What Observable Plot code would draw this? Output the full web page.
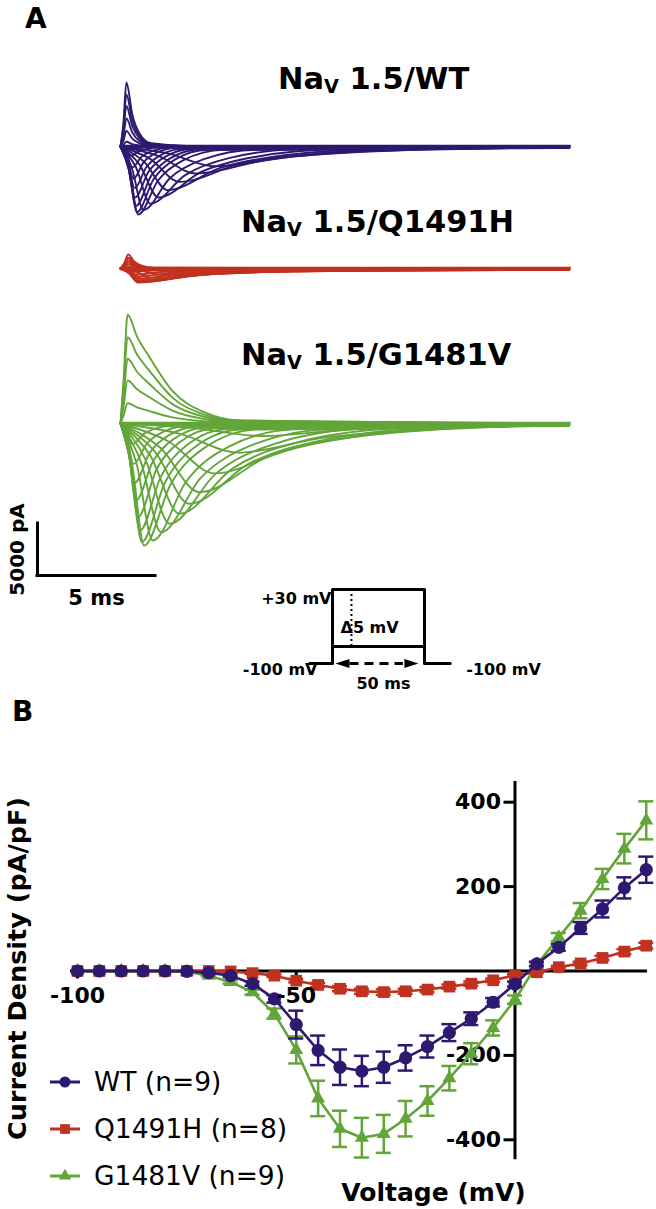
<!DOCTYPE html>
<html><head><meta charset="utf-8">
<script src="https://cdn.jsdelivr.net/npm/d3@7"></script>
<script src="https://cdn.jsdelivr.net/npm/@observablehq/plot@0.6"></script>
<style>
body{margin:0;background:#fff;}
#fig{position:relative;width:656px;height:1209px;overflow:hidden;font-family:"DejaVu Sans",sans-serif;background:#fff;}
.lbl{position:absolute;line-height:1;white-space:nowrap;color:#000;font-family:"DejaVu Sans",sans-serif;}
.sub{font-size:0.63em;position:relative;top:0.22em;}
</style></head><body><div id="fig"></div>
<script>
// ---------------- DATA ----------------
// Panel A: representative current sweeps, key points [time (ms), current (pA)]
const wtSweeps = [
  [[0,0],[0.12,2150],[0.25,6150],[0.5,3075],[0.81,1230],[1.3,310],[3,40],[19,0]],
  [[0,0],[0.12,1750],[0.25,5000],[0.5,2500],[0.81,1000],[1.3,250],[3,30],[19,0]],
  [[0,0],[0.12,1365],[0.25,3900],[0.5,1950],[0.81,780],[1.3,195],[3,25],[19,0]],
  [[0,0],[0.12,945],[0.25,2700],[0.5,1350],[0.81,540],[1.3,135],[3,15],[19,0]],
  [[0,0],[0.12,525],[0.25,1500],[0.5,750],[0.81,300],[1.3,75],[3,10],[19,0]],
  [[0,0],[0.12,160],[0.25,450],[0.5,225],[0.81,90],[1.3,22],[3,0],[19,0]],
  [[0,0],[0.22,-315],[0.45,-900],[0.8,-450],[1.25,-180],[1.95,-45],[19,-20]],
  [[0,0],[0.25,-700],[0.5,-2000],[0.89,-1000],[1.38,-400],[2.15,-100],[19,-40]],
  [[0,0],[0.28,-1085],[0.55,-3100],[0.97,-1550],[1.51,-620],[2.35,-155],[19,-60]],
  [[0,0],[0.3,-1400],[0.6,-4000],[1.09,-2000],[1.72,-800],[2.7,-200],[19,-80]],
  [[0,0],[0.31,-1715],[0.62,-4900],[1.18,-2450],[1.9,-980],[3.02,-245],[19,-100]],
  [[0,0],[0.33,-1995],[0.66,-5700],[1.29,-2850],[2.1,-1140],[3.36,-285],[19,-110]],
  [[0,0],[0.35,-2205],[0.7,-6300],[1.4,-3150],[2.3,-1260],[3.7,-315],[19,-120]],
  [[0,0],[0.38,-2290],[0.75,-6540],[1.59,-3270],[2.67,-1310],[4.35,-327],[19,-130]],
  [[0,0],[0.49,-2135],[0.97,-6100],[2.09,-3050],[3.53,-1220],[5.77,-305],[19,-120]],
  [[0,0],[0.64,-1925],[1.27,-5500],[2.74,-2750],[4.63,-1100],[7.57,-275],[19,-110]],
  [[0,0],[0.8,-1715],[1.6,-4900],[3.42,-2450],[5.76,-980],[9.4,-245],[19,-100]],
  [[0,0],[1.0,-1470],[2.0,-4200],[4.17,-2100],[6.96,-840],[11.3,-210],[19,-90]],
  [[0,0],[1.25,-1190],[2.5,-3400],[5.02,-1700],[8.26,-680],[13.3,-170],[19,-80]],
  [[0,0],[1.6,-910],[3.2,-2600],[6.14,-1300],[9.92,-520],[15.8,-130],[19,-70]],
  [[0,0],[2.0,-665],[4.0,-1900],[7.36,-950],[11.7,-380],[19,-120]]
];
const q1491hSweeps = [
  [[0,0],[0.15,473],[0.33,1350],[0.58,675],[0.9,270],[1.4,68],[19,0]],
  [[0,0],[0.15,360],[0.33,1030],[0.58,515],[0.9,206],[1.4,52],[19,0]],
  [[0,0],[0.15,280],[0.33,800],[0.58,400],[0.9,160],[1.4,40],[19,0]],
  [[0,0],[0.15,203],[0.33,580],[0.58,290],[0.9,116],[1.4,29],[19,0]],
  [[0,0],[0.15,135],[0.33,385],[0.58,193],[0.9,77],[1.4,19],[19,0]],
  [[0,0],[0.15,56],[0.33,160],[0.58,80],[0.9,32],[1.4,8],[19,0]],
  [[0,0],[0.25,-105],[0.5,-300],[1.76,-150],[3.38,-75],[5.9,-45],[19,-30]],
  [[0,0],[0.28,-210],[0.55,-600],[1.95,-300],[3.75,-150],[6.55,-90],[19,-60]],
  [[0,0],[0.3,-285],[0.6,-810],[2.21,-405],[4.28,-203],[7.5,-122],[19,-81]],
  [[0,0],[0.33,-350],[0.65,-1000],[2.47,-500],[4.81,-250],[8.45,-150],[19,-100]],
  [[0,0],[0.35,-417],[0.7,-1190],[2.73,-595],[5.34,-298],[9.4,-179],[19,-119]],
  [[0,0],[0.36,-455],[0.72,-1300],[2.89,-650],[5.68,-325],[10.0,-195],[19,-130]],
  [[0,0],[0.38,-473],[0.75,-1350],[3.06,-675],[6.03,-338],[10.65,-203],[19,-135]],
  [[0,0],[0.43,-455],[0.85,-1300],[3.3,-650],[6.45,-325],[11.35,-195],[19,-130]],
  [[0,0],[0.5,-396],[1.0,-1130],[3.66,-565],[7.08,-283],[12.4,-170],[19,-113]],
  [[0,0],[0.65,-315],[1.3,-900],[4.24,-450],[8.02,-225],[13.9,-135],[19,-90]],
  [[0,0],[0.85,-210],[1.7,-600],[4.92,-300],[9.06,-150],[15.5,-90],[19,-60]],
  [[0,0],[1.1,-105],[2.2,-300],[5.7,-150],[10.2,-75],[17.2,-45],[19,-30]]
];
const g1481vSweeps = [
  [[0,0],[0.13,4180],[0.3,10450],[0.7,8360],[1.23,6375],[2.2,3135],[3.6,1045],[5,315],[19,0]],
  [[0,0],[0.13,3320],[0.3,8300],[0.7,6640],[1.23,5063],[2.2,2490],[3.6,830],[5,250],[19,0]],
  [[0,0],[0.13,2488],[0.3,6220],[0.7,4976],[1.23,3794],[2.2,1866],[3.6,622],[5,187],[19,0]],
  [[0,0],[0.13,1652],[0.3,4130],[0.7,3304],[1.23,2519],[2.2,1239],[3.6,413],[5,124],[19,0]],
  [[0,0],[0.13,780],[0.3,1950],[0.7,1560],[1.23,1190],[2.2,585],[3.6,195],[5,59],[19,0]],
  [[0,0],[0.25,-700],[0.5,-2000],[0.99,-1000],[1.62,-400],[2.6,-100],[19,-50]],
  [[0,0],[0.28,-1365],[0.55,-3900],[1.11,-1950],[1.83,-780],[2.95,-195],[19,-80]],
  [[0,0],[0.3,-1995],[0.6,-5700],[1.23,-2850],[2.04,-1140],[3.3,-285],[19,-110]],
  [[0,0],[0.33,-2590],[0.66,-7400],[1.36,-3700],[2.26,-1480],[3.66,-370],[19,-140]],
  [[0,0],[0.37,-3150],[0.74,-9000],[1.51,-4500],[2.5,-1800],[4.04,-450],[19,-170]],
  [[0,0],[0.41,-3605],[0.82,-10300],[1.7,-5150],[2.82,-2060],[4.57,-515],[19,-190]],
  [[0,0],[0.45,-3990],[0.9,-11400],[1.88,-5700],[3.14,-2280],[5.1,-570],[19,-210]],
  [[0,0],[0.5,-4105],[1.0,-11730],[2.12,-5865],[3.56,-2346],[5.8,-587],[19,-220]],
  [[0,0],[0.69,-3940],[1.37,-11250],[2.77,-5625],[4.57,-2250],[7.37,-563],[19,-210]],
  [[0,0],[0.86,-3660],[1.72,-10450],[3.4,-5225],[5.56,-2090],[8.92,-523],[19,-200]],
  [[0,0],[1.04,-3375],[2.08,-9640],[4.04,-4820],[6.56,-1930],[10.5,-482],[19,-190]],
  [[0,0],[1.25,-3040],[2.5,-8680],[4.74,-4340],[7.62,-1736],[12.1,-434],[19,-180]],
  [[0,0],[1.46,-2700],[2.92,-7720],[5.44,-3860],[8.68,-1544],[13.7,-386],[19,-170]],
  [[0,0],[1.68,-2310],[3.35,-6600],[6.15,-3300],[9.75,-1320],[15.35,-330],[19,-160]],
  [[0,0],[2.0,-1680],[4.0,-4800],[7.15,-2400],[11.2,-960],[17.5,-240],[19,-200]],
  [[0,0],[2.5,-980],[5.0,-2800],[8.5,-1400],[13,-560],[19,-150]],
  [[0,0],[3,-420],[6,-1200],[9.5,-600],[14,-240],[19,-90]]
];
const traceTitles = ["WT", "Q1491H", "G1481V"];
const scaleBarMs = 5, scaleBarPa = 5000;

// Voltage protocol (schematic): time (ms), voltage (mV)
const protocolTime = [-12.5, 0, 0, 50, 50, 64];
const protocolVoltage = [-100, -100, 30, 30, -100, -100];
const protocolLowStep = -70;       // lower edge of the step family
const protocolPulseMs = 50;

// Panel B: current density (pA/pF) vs test voltage (mV)
const voltages = [-100,-95,-90,-85,-80,-75,-70,-65,-60,-55,-50,-45,-40,-35,-30,-25,-20,-15,-10,-5,0,5,10,15,20,25,30];
const wtMean = [0,0,0,0,0,-1,-4,-11,-30,-66,-127,-188,-228,-237,-228,-206,-179,-146,-113,-74,-31,17,56,102,147,197,240];
const wtSem  = [0,0,0,0,0,0,1,3,5,9,33,35,42,36,37,30,26,20,15,10,6,5,8,14,20,25,31];
const qMean  = [0,0,0,0,0,0,0,-1,-5,-11,-23,-33,-42,-48,-50,-48,-44,-37,-30,-22,-10,-3,9,18,31,46,60];
const qSem   = [0,0,0,0,0,0,0,1,2,3,4,5,6,6,7,6,6,5,5,4,3,2,3,4,5,6,7];
const gMean  = [0,0,0,0,0,-2,-11,-26,-50,-101,-187,-302,-374,-395,-386,-350,-308,-254,-196,-135,-68,15,80,143,218,290,357];
const gSem   = [0,0,0,0,0,0,2,4,6,12,32,42,43,47,45,42,35,29,25,18,10,6,10,18,24,35,45];
const seriesNames = ["WT (n=9)", "Q1491H (n=8)", "G1481V (n=9)"];
const xTicks = [-100, -50];
const yTicks = [-400, -200, 200, 400];

// ---------------- STYLE / LAYOUT ----------------
const WT_COLOR = "#2d1a70", Q_COLOR = "#c0311f", G_COLOR = "#62a539";
const FONT = "DejaVu Sans";
const fig = document.getElementById("fig");
function place(node, left, top) {
  node.style.position = "absolute";
  node.style.left = left + "px";
  node.style.top = top + "px";
  fig.appendChild(node);
  return node;
}
function label(html, left, baseline, size, weight = "bold") {
  const d = document.createElement("div");
  d.className = "lbl";
  d.innerHTML = html;
  d.style.fontSize = size + "px";
  d.style.fontWeight = weight;
  return place(d, left, baseline - 0.846 * size);
}

// ---------------- PANEL A ----------------
const MS_PX = 118 / scaleBarMs;   // px per ms
const PA_PX = 52 / scaleBarPa;    // px per pA
const ONSET_X = 120;
function tracePlot(sweeps, color, top, height, baseline, extra = []) {
  const rows = sweeps.flatMap((s, k) => s.map(([t, i]) => ({k, t, i})));
  const b = baseline - top;
  const svg = Plot.plot({
    width: 656, height, margin: 0,
    style: {background: "transparent", overflow: "visible", fontFamily: FONT},
    x: {domain: [-ONSET_X / MS_PX, (656 - ONSET_X) / MS_PX], axis: null},
    y: {domain: [-(height - b) / PA_PX, b / PA_PX], axis: null},
    marks: [
      Plot.ruleY([0], {x1: 0, x2: 19.1, stroke: color, strokeWidth: 3.5}),
      Plot.line(rows, {x: "t", y: "i", z: "k", stroke: color, strokeWidth: 1.9, curve: "monotone-x"}),
      ...extra
    ]
  });
  return place(svg, 0, top);
}

label("A", 25, 29, 28);
tracePlot(wtSweeps, WT_COLOR, 60, 180, 146);
tracePlot(q1491hSweeps, Q_COLOR, 240, 50, 268);
const G_TOP = 290, G_BASE = 423;
const barT = (37 - ONSET_X) / MS_PX, barI = -(575 - G_BASE) / PA_PX;
tracePlot(g1481vSweeps, G_COLOR, G_TOP, 330, G_BASE, [
  Plot.ruleX([0], {x: barT, y1: barI, y2: barI + scaleBarPa, strokeWidth: 3, strokeLinecap: "square"}),
  Plot.ruleY([0], {y: barI, x1: barT, x2: barT + scaleBarMs, strokeWidth: 3, strokeLinecap: "square"}),
  Plot.text([`${scaleBarMs} ms`], {x: barT + scaleBarMs / 2, y: barI, text: d => d, dy: 23, fontSize: 21, fontWeight: "bold"}),
  Plot.text([`${scaleBarPa} pA`], {x: barT, y: barI + scaleBarPa / 2, text: d => d, rotate: -90, dx: -20, fontSize: 20, fontWeight: "bold"})
]);

label(`Na<span class="sub">V</span> 1.5/${traceTitles[0]}`, 278, 90, 30.5);
label(`Na<span class="sub">V</span> 1.5/${traceTitles[1]}`, 241, 233, 30.5);
label(`Na<span class="sub">V</span> 1.5/${traceTitles[2]}`, 241, 366, 30.5);

// Voltage protocol
const protoRows = protocolTime.map((t, j) => ({t, v: protocolVoltage[j]}));
const P_MS_PX = 92 / protocolPulseMs, P_MV_PX = 74 / 130, P_W = 330, P_H = 112;
const arrowRight = {draw(ctx) { ctx.moveTo(7, 0); ctx.lineTo(-7, -4.5); ctx.lineTo(-7, 4.5); ctx.closePath(); }};
const arrowLeft = {draw(ctx) { ctx.moveTo(-7, 0); ctx.lineTo(7, -4.5); ctx.lineTo(7, 4.5); ctx.closePath(); }};
const lblStyle = {fontSize: 16, fontWeight: "bold", text: d => d.s};
const protocol = Plot.plot({
  width: P_W, height: P_H, margin: 0,
  style: {background: "transparent", overflow: "visible", fontFamily: FONT},
  x: {domain: [-102 / P_MS_PX, (P_W - 102) / P_MS_PX], axis: null},
  y: {domain: [-100 - (P_H - 83) / P_MV_PX, 30 + 9 / P_MV_PX], axis: null},
  marks: [
    Plot.line(protoRows, {x: "t", y: "v", strokeWidth: 3}),
    Plot.ruleY([protocolLowStep], {x1: 0, x2: protocolPulseMs, strokeWidth: 3}),
    Plot.ruleX([10.3], {y1: protocolLowStep, y2: 30, strokeWidth: 2, strokeDasharray: "2,3"}),
    Plot.ruleY([-100], {x1: 9.5, x2: 38.5, strokeWidth: 3, strokeDasharray: "9,6"}),
    Plot.dot([{t: 5.4, v: -100}], {x: "t", y: "v", symbol: arrowLeft, fill: "black", stroke: "none"}),
    Plot.dot([{t: 42.9, v: -100}], {x: "t", y: "v", symbol: arrowRight, fill: "black", stroke: "none"}),
    Plot.text([{t: 0, v: 30, s: "+30 mV"}], {x: "t", y: "v", ...lblStyle, textAnchor: "end", dx: -1, dy: 9}),
    Plot.text([{t: 0, v: protocolLowStep, s: "\u03945 mV"}], {x: "t", y: "v", ...lblStyle, textAnchor: "start", dx: 8, dy: -19}),
    Plot.text([{t: 0, v: -100, s: "-100 mV"}], {x: "t", y: "v", ...lblStyle, textAnchor: "end", dx: -15, dy: 6}),
    Plot.text([{t: 64, v: -100, s: "-100 mV"}], {x: "t", y: "v", ...lblStyle, textAnchor: "start", dx: 16, dy: 6}),
    Plot.text([{t: protocolPulseMs / 2, v: -100, s: `${protocolPulseMs} ms`}], {x: "t", y: "v", ...lblStyle, dx: 5, dy: 20})
  ]
});
place(protocol, 230, 580);

// ---------------- PANEL B ----------------
label("B", 12, 722, 28);
const B_TOP = 760, B_H = 449, V_PX = 4.375, D_PX = 0.422, X0 = 514.5, Y0 = 970.5 - B_TOP;
const series = [
  {name: seriesNames[2], mean: gMean, sem: gSem, color: G_COLOR, symbol: "triangle", r: 5.2},
  {name: seriesNames[1], mean: qMean, sem: qSem, color: Q_COLOR, symbol: "square", r: 6.6},
  {name: seriesNames[0], mean: wtMean, sem: wtSem, color: WT_COLOR, symbol: "circle", r: 6.6}
];
const seriesMarks = series.flatMap(s => {
  const rows = voltages.map((v, j) => ({v, m: s.mean[j], e: s.sem[j]}));
  const err = rows.filter(d => d.e > 0);
  return [
    Plot.line(rows, {x: "v", y: "m", stroke: s.color, strokeWidth: 2.6}),
    Plot.ruleX(err, {x: "v", y1: d => d.m - d.e, y2: d => d.m + d.e, stroke: s.color, strokeWidth: 2.5}),
    Plot.ruleY(err, {y: d => d.m + d.e, x1: "v", x2: "v", insetLeft: -7.5, insetRight: -7.5, stroke: s.color, strokeWidth: 2.5}),
    Plot.ruleY(err, {y: d => d.m - d.e, x1: "v", x2: "v", insetLeft: -7.5, insetRight: -7.5, stroke: s.color, strokeWidth: 2.5}),
    Plot.dot(rows, {x: "v", y: "m", symbol: s.symbol, r: s.r, fill: s.color, stroke: "none"})
  ];
});
const iv = Plot.plot({
  width: 656, height: B_H, margin: 0,
  style: {background: "transparent", overflow: "visible", fontFamily: FONT},
  x: {domain: [-X0 / V_PX, (656 - X0) / V_PX], axis: null},
  y: {domain: [-(B_H - Y0) / D_PX, Y0 / D_PX], axis: null},
  marks: [
    Plot.ruleY([0], {x1: -101.6, x2: 30.3, strokeWidth: 3}),
    Plot.ruleX([0], {y1: -447, y2: 449, strokeWidth: 3}),
    Plot.ruleX(xTicks, {x: d => d, y1: 0, y2: 0, insetBottom: -8, strokeWidth: 3}),
    Plot.ruleY(yTicks, {y: d => d, x1: 0, x2: 0, insetLeft: -11, strokeWidth: 3}),
    Plot.text(yTicks, {x: 0, y: d => d, text: d => String(d), textAnchor: "end", dx: -14, fontSize: 22, fontWeight: "bold"}),
    ...seriesMarks,
    Plot.text(xTicks, {x: d => d, y: 0, text: d => String(d), dy: 25, fontSize: 22, fontWeight: "bold"}),
    Plot.text(["Current Density (pA/pF)"], {frameAnchor: "left", text: d => d, rotate: -90, textAnchor: "middle", dx: 17, dy: -16.5, lineAnchor: "middle", fontSize: 25.5, fontWeight: "bold"}),
    Plot.text(["Voltage (mV)"], {frameAnchor: "bottom", text: d => d, textAnchor: "middle", dx: 105, dy: -17, lineAnchor: "middle", fontSize: 25, fontWeight: "bold"})
  ]
});
place(iv, 0, B_TOP);

// Legend
const legendRows = [
  {name: seriesNames[0], color: WT_COLOR, sym: d3.symbolCircle, r: 5.5, y: 1082},
  {name: seriesNames[1], color: Q_COLOR, sym: d3.symbolSquare, r: 5.5, y: 1129},
  {name: seriesNames[2], color: G_COLOR, sym: d3.symbolTriangle, r: 4.6, y: 1176}
];
for (const L of legendRows) {
  const sw = d3.create("svg").attr("width", 38).attr("height", 20);
  sw.append("line").attr("x1", 4).attr("x2", 34).attr("y1", 10).attr("y2", 10)
    .attr("stroke", L.color).attr("stroke-width", 3);
  sw.append("path").attr("transform", "translate(19,10)")
    .attr("d", d3.symbol(L.sym, L.r * L.r * Math.PI)()).attr("fill", L.color);
  place(sw.node(), 46, L.y - 10);
  label(L.name, 94, L.y + 9, 26.5, "normal");
}
</script></body></html>
